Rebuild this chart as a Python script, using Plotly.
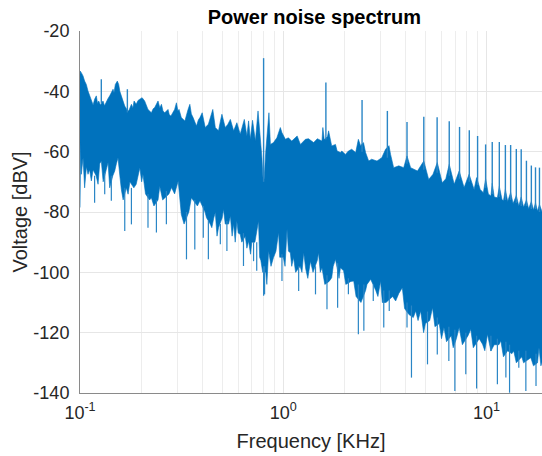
import plotly.graph_objects as go

# ---------------- data ----------------
# upper edge of the noise band: frequency [kHz], level [dBV]
upper_freq = [0.1000, 0.1003, 0.1015, 0.1035, 0.1054, 0.1074, 0.1095, 0.1116, 0.1146, 0.1160,
              0.1180, 0.1203, 0.1220, 0.1236, 0.1260, 0.1298, 0.1320, 0.1348, 0.1370, 0.1400,
              0.1426, 0.1454, 0.1470, 0.1492, 0.1526, 0.1550, 0.1570, 0.1586, 0.1628, 0.1660,
              0.1700, 0.1737, 0.1790, 0.1820, 0.1845, 0.1890, 0.1930, 0.1970, 0.2020, 0.2080,
              0.2120, 0.2160, 0.2245, 0.2290, 0.2330, 0.2380, 0.2420, 0.2470, 0.2515, 0.2560,
              0.2610, 0.2710, 0.2750, 0.2800, 0.2860, 0.2920, 0.2980, 0.3030, 0.3070, 0.3150,
              0.3280, 0.3340, 0.3400, 0.3470, 0.3530, 0.3600, 0.3740, 0.3820, 0.3890, 0.3990,
              0.4050, 0.4130, 0.4280, 0.4400, 0.4500, 0.4630, 0.4800, 0.4900, 0.4990, 0.5180,
              0.5330, 0.5490, 0.5700, 0.5910, 0.6140, 0.6430, 0.6620, 0.6750, 0.6880, 0.7060,
              0.7290, 0.7510, 0.7710, 0.7850, 0.7950, 0.8050, 0.8200, 0.8500, 0.8640, 0.8950,
              0.9300, 0.9670, 0.9850, 1.0240, 1.0600, 1.1000, 1.1700, 1.2140, 1.2850, 1.3300,
              1.4100, 1.4700, 1.5500, 1.5650, 1.5900, 1.6500, 1.6700, 1.7300, 1.8060, 1.8400,
              1.9110, 1.9400, 2.0200, 2.0900, 2.1700, 2.2700, 2.3400, 2.4000, 2.4800, 2.5400,
              2.6300, 2.7200, 2.8900, 3.0500, 3.1850, 3.3100, 3.3700, 3.4900, 3.7000, 3.9100,
              4.0600, 4.2300, 4.5700, 4.9100, 5.1900, 5.4500, 5.7200, 6.0500, 6.3000, 6.5500,
              6.9300, 7.3300, 7.7500, 8.2000, 8.6800, 8.9300, 9.3000, 9.6400, 9.8900, 10.200,
              10.500, 10.660, 10.900, 11.300, 11.550, 11.900, 12.100, 12.370, 12.700, 13.130,
              13.500, 14.000, 14.400, 14.800, 15.200, 15.700, 16.100, 16.600, 17.000, 17.400,
              17.800, 18.200, 18.800]
upper_db = [-34.5, -33.3, -33.8, -34.9, -36.6, -37.7, -39.9, -41.5, -43.2, -44.5,
            -42.6, -41.5, -44.0, -43.2, -44.5, -43.2, -44.8, -43.2, -42.5, -41.5,
            -40.4, -39.3, -40.5, -37.7, -36.6, -37.7, -40.0, -41.0, -43.2, -44.9,
            -46.0, -46.5, -44.3, -45.5, -43.2, -44.3, -43.0, -42.6, -42.1, -43.2,
            -45.0, -46.0, -47.1, -45.8, -45.4, -44.0, -43.2, -45.5, -44.3, -46.5,
            -47.1, -46.0, -47.8, -48.2, -47.0, -46.0, -43.8, -46.5, -46.0, -48.7,
            -49.8, -47.5, -46.0, -44.3, -47.5, -48.7, -51.5, -49.5, -48.7, -47.1,
            -49.5, -52.0, -50.9, -48.5, -46.0, -52.0, -53.1, -50.0, -47.6, -52.0,
            -51.0, -49.3, -53.1, -50.4, -54.2, -49.3, -54.8, -49.8, -55.9, -49.6,
            -56.5, -46.5, -55.4, -62.0, -69.0, -69.0, -59.8, -47.1, -57.6, -57.0,
            -55.4, -52.0, -53.7, -55.9, -55.4, -56.5, -54.8, -57.6, -55.9, -55.7,
            -57.0, -55.7, -56.5, -52.0, -56.0, -55.0, -53.1, -58.1, -57.6, -59.8,
            -60.3, -59.8, -60.9, -59.8, -59.2, -60.3, -55.9, -58.0, -57.0, -60.3,
            -63.1, -62.5, -63.1, -62.0, -59.2, -58.0, -60.9, -65.3, -64.7, -65.3,
            -61.4, -65.3, -66.4, -63.1, -69.2, -67.5, -63.6, -70.3, -69.0, -64.2,
            -70.8, -66.4, -71.9, -67.5, -72.5, -68.6, -72.5, -73.6, -69.0, -74.0,
            -74.7, -70.5, -75.0, -75.3, -71.5, -75.8, -76.3, -72.5, -76.5, -73.5,
            -77.2, -74.5, -78.0, -75.0, -78.4, -76.0, -78.9, -76.5, -79.3, -77.0,
            -79.7, -77.5, -80.2]

# lower edge of the solid noise band
lower_freq = [0.1000, 0.1008, 0.1015, 0.1035, 0.1054, 0.1075, 0.1095, 0.1115, 0.1137, 0.1160,
              0.1200, 0.1227, 0.1250, 0.1273, 0.1300, 0.1350, 0.1374, 0.1400, 0.1450, 0.1482,
              0.1510, 0.1538, 0.1570, 0.1597, 0.1630, 0.1690, 0.1724, 0.1760, 0.1840, 0.1890,
              0.1930, 0.1970, 0.2010, 0.2040, 0.2100, 0.2200, 0.2245, 0.2310, 0.2420, 0.2468,
              0.2550, 0.2740, 0.2820, 0.2920, 0.3040, 0.3150, 0.3250, 0.3430, 0.3530, 0.3780,
              0.3890, 0.4120, 0.4190, 0.4370, 0.4450, 0.4550, 0.4630, 0.4720, 0.4800, 0.5000,
              0.5080, 0.5180, 0.5380, 0.5490, 0.5600, 0.5700, 0.5800, 0.5910, 0.6000, 0.6140,
              0.6250, 0.6500, 0.6620, 0.6750, 0.6900, 0.7000, 0.7250, 0.7550, 0.7650, 0.7750,
              0.7920, 0.8200, 0.8300, 0.8470, 0.8700, 0.8950, 0.9200, 0.9480, 0.9600, 1.0000,
              1.0200, 1.0430, 1.0600, 1.0830, 1.1000, 1.1230, 1.1500, 1.2100, 1.2350, 1.2600,
              1.2900, 1.3200, 1.3600, 1.4000, 1.4700, 1.4900, 1.5200, 1.5500, 1.6000, 1.6800,
              1.7300, 1.7600, 1.8060, 1.8800, 1.9100, 1.9800, 2.0300, 2.1500, 2.2200, 2.2800,
              2.4100, 2.5400, 2.5800, 2.6900, 2.8500, 2.9200, 3.0100, 3.0700, 3.2000, 3.4500,
              3.5700, 3.7000, 3.8500, 3.9500, 4.1500, 4.3600, 4.4800, 4.6000, 4.7400, 4.9000,
              5.0000, 5.2500, 5.4200, 5.5700, 5.8500, 6.0000, 6.1700, 6.3500, 6.7000, 6.8500,
              7.1000, 7.3300, 7.6000, 8.1000, 8.3600, 8.6000, 9.2000, 9.5500, 9.8000, 10.100,
              10.500, 10.900, 11.500, 11.750, 12.100, 12.700, 13.300, 13.600, 14.000, 14.900,
              15.200, 16.000, 16.500, 17.000, 17.800, 18.100, 18.500, 18.800]
lower_db = [-78.5, -57.0, -67.5, -62.0, -72.0, -65.0, -67.5, -66.0, -69.7, -66.0,
            -68.0, -70.8, -64.0, -63.1, -70.0, -66.0, -63.6, -72.0, -68.0, -66.4,
            -64.0, -62.0, -68.0, -72.5, -76.0, -72.0, -74.1, -70.0, -72.0, -70.8,
            -68.0, -65.3, -70.0, -67.5, -74.0, -76.0, -75.3, -78.0, -76.0, -71.5,
            -76.0, -74.0, -71.9, -74.0, -69.7, -80.8, -84.0, -80.0, -75.3, -78.0,
            -76.3, -80.0, -81.9, -84.0, -85.2, -82.0, -80.2, -88.0, -85.2, -82.0,
            -79.1, -84.0, -84.0, -81.3, -88.0, -84.0, -90.0, -83.0, -87.0, -87.4,
            -90.0, -88.0, -92.0, -89.6, -94.0, -90.0, -90.0, -83.0, -95.0, -96.0,
            -100.0, -100.0, -104.0, -92.9, -98.0, -95.1, -93.0, -86.8, -95.0, -95.0,
            -98.0, -85.7, -93.0, -93.5, -98.0, -95.1, -100.0, -98.0, -100.0, -93.5,
            -99.0, -102.0, -96.3, -100.0, -96.0, -93.5, -100.0, -98.5, -104.0, -103.0,
            -101.8, -98.0, -95.7, -102.0, -98.5, -99.5, -104.0, -103.0, -102.9, -108.0,
            -110.0, -106.0, -104.0, -102.3, -106.0, -108.0, -102.9, -110.0, -110.0, -108.0,
            -109.5, -107.0, -105.1, -112.0, -114.0, -115.0, -112.8, -116.0, -112.8, -120.0,
            -117.0, -116.0, -111.7, -118.0, -117.0, -122.0, -118.3, -123.0, -121.0, -125.0,
            -122.0, -118.3, -124.0, -121.0, -118.9, -125.0, -122.0, -123.8, -126.0, -120.5,
            -126.1, -124.0, -124.0, -122.7, -128.0, -126.0, -127.0, -126.1, -130.0, -128.0,
            -130.0, -129.0, -128.3, -131.0, -130.0, -125.0, -131.0, -129.4]

# narrow upward spikes (harmonics): frequency, foot level, peak level
up_spike_freq = [0.1273, 0.171, 0.80, 1.62, 2.44, 3.25, 4.06, 4.91, 5.71, 6.55, 7.36, 8.22,
                 9.03, 9.89, 10.66, 11.55, 12.37, 13.13, 14.0, 14.8, 15.7, 16.6, 17.4, 18.2]
up_spike_base = [-44, -47, -70, -56, -60, -62, -64, -66, -67, -68, -69, -70,
                 -71, -72, -74, -75, -76, -76, -77, -78, -78, -79, -79, -80]
up_spike_top = [-36.0, -39.3, -29.0, -37.1, -42.9, -46.5, -50.2, -48.4, -48.6, -49.9, -51.8, -52.9,
                -54.8, -57.6, -56.8, -56.8, -57.8, -57.8, -59.1, -59.2, -63.0, -64.6, -65.2, -65.3]

# narrow downward spikes: frequency, foot level, tip level
down_spike_freq = [0.1180, 0.1323, 0.1426, 0.1660, 0.1790, 0.2160, 0.2376, 0.2660, 0.3340, 0.3670,
                   0.4040, 0.4280, 0.4900, 0.5280, 0.6370, 0.7140, 0.7400, 0.8000, 0.8090, 0.9850,
                   1.1900, 1.4400, 1.6400, 1.8500, 2.0900, 2.3400, 2.4900, 2.7700, 3.1200, 3.3200,
                   4.0600, 4.2700, 5.1200, 5.7200, 6.5200, 6.9800, 7.9000, 8.9300, 10.500, 11.300,
                   12.440, 12.970, 14.400, 15.600, 17.500]
down_spike_base = [-68, -67, -68, -72, -72, -74, -76, -73, -80, -76,
                   -78, -83, -84, -83, -87, -90, -90, -98, -98, -94,
                   -98, -98, -101, -97, -102, -104, -104, -104, -106, -106,
                   -110, -111, -113, -115, -118, -119, -120, -121, -121, -122,
                   -123, -124, -126, -126, -127]
down_spike_tip = [-76.9, -74.1, -76.3, -86.3, -84.1, -85.2, -86.8, -84.1, -95.7, -92.4,
                  -88.5, -95.7, -90.7, -92.9, -97.9, -96.3, -99.5, -107.8, -107.3, -102.9,
                  -106.2, -107.3, -112.2, -111.7, -107.3, -120.5, -119.4, -109.5, -118.3, -112.8,
                  -118.3, -134.9, -130.5, -127.2, -129.4, -139.3, -133.8, -138.5, -126.1, -137.1,
                  -134.9, -139.9, -131.6, -139.3, -137.7]

x_tick_vals = [0.1, 1, 10]
x_tick_text = ["10<sup>-1</sup>", "10<sup>0</sup>", "10<sup>1</sup>"]
x_minor_vals = [0.2, 0.3, 0.4, 0.5, 0.6, 0.7, 0.8, 0.9, 2, 3, 4, 5, 6, 7, 8, 9, 20]
y_tick_vals = [-140, -120, -100, -80, -60, -40, -20]
y_tick_text = ["-140", "-120", "-100", "-80", "-60", "-40", "-20"]

# ---------------- figure ----------------
BLUE = "#0072BD"
fig = go.Figure()

# solid noise band
fig.add_trace(go.Scatter(
    x=upper_freq + lower_freq[::-1],
    y=upper_db + lower_db[::-1],
    mode="lines", fill="toself", fillcolor=BLUE,
    line=dict(color=BLUE, width=0.6),
    hoverinfo="skip", showlegend=False,
))

def segments(freqs, a, b):
    xs, ys = [], []
    for f, y0, y1 in zip(freqs, a, b):
        xs += [f, f, None]
        ys += [y0, y1, None]
    return xs, ys

sx, sy = segments(down_spike_freq, down_spike_base, down_spike_tip)
fig.add_trace(go.Scatter(x=sx, y=sy, mode="lines",
                         line=dict(color="#2a86c6", width=1.2),
                         hoverinfo="skip", showlegend=False))

sx, sy = segments(up_spike_freq, up_spike_base, up_spike_top)
fig.add_trace(go.Scatter(x=sx, y=sy, mode="lines",
                         line=dict(color="#2a86c6", width=1.4),
                         hoverinfo="skip", showlegend=False))

FONT = "Liberation Sans, Arial, Helvetica, sans-serif"
fig.update_layout(
    width=542, height=456,
    margin=dict(l=80, r=0, t=31, b=63, autoexpand=False),
    paper_bgcolor="white", plot_bgcolor="white",
    font=dict(family=FONT, size=18, color="#262626"),
    title=dict(text="<b>Power noise spectrum</b>", xref="container", x=0.58, xanchor="center",
               yref="container", y=0.962, yanchor="middle",
               font=dict(family=FONT, size=20, color="black")),
    showlegend=False,
)
fig.update_xaxes(
    type="log", range=[-1, 1.2725], automargin=False,
    tickvals=x_tick_vals, ticktext=x_tick_text,
    showgrid=True, gridcolor="#e6e6e6", gridwidth=1,
    minor=dict(tickvals=x_minor_vals, showgrid=True, gridcolor="#ededed", gridwidth=1, ticks=""),
    showline=True, linecolor="#8a8a8a", linewidth=1,
    ticks="", ticklabelstandoff=3, tickfont=dict(size=18, color="#262626"),
    title=dict(text="Frequency [KHz]", font=dict(size=20, color="#262626"), standoff=12),
    zeroline=False,
)
fig.update_yaxes(
    range=[-140, -20], automargin=False,
    tickvals=y_tick_vals, ticktext=y_tick_text,
    showgrid=True, gridcolor="#e6e6e6", gridwidth=1,
    showline=True, linecolor="#8a8a8a", linewidth=1,
    ticks="", ticklabelstandoff=6, tickfont=dict(size=18, color="#262626"),
    title=dict(text="Voltage [dBV]", font=dict(size=20, color="#262626"), standoff=0),
    zeroline=False,
)

fig.write_html(
    "out.html",
    config={"displayModeBar": False},
    post_script="document.body.style.margin='0';document.body.style.overflow='hidden';",
)
